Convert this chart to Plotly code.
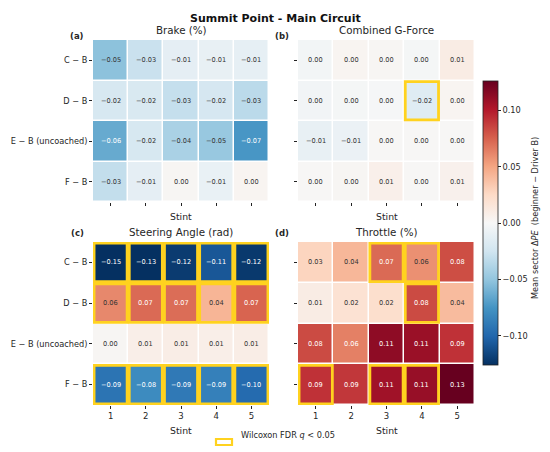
import plotly.graph_objects as go

W, H = 550, 452

stints = [1, 2, 3, 4, 5]
pairs = ["C − B", "D − B", "E − B (uncoached)", "F − B"]

brake = [
    [-0.052, -0.028, -0.012, -0.010, -0.011],
    [-0.021, -0.020, -0.030, -0.022, -0.034],
    [-0.064, -0.021, -0.041, -0.048, -0.074],
    [-0.031, -0.012, 0.002, -0.009, 0.003],
]
gforce = [
    [-0.003, 0.003, 0.002, -0.002, 0.010],
    [-0.004, -0.002, -0.001, -0.016, 0.003],
    [-0.010, -0.008, 0.001, 0.001, 0.001],
    [0.001, 0.002, 0.007, 0.001, 0.006],
]
steering = [
    [-0.148, -0.132, -0.121, -0.108, -0.122],
    [0.061, 0.072, 0.071, 0.043, 0.074],
    [0.002, 0.008, 0.009, 0.008, 0.009],
    [-0.093, -0.080, -0.090, -0.086, -0.098],
]
throttle = [
    [0.028, 0.042, 0.072, 0.058, 0.082],
    [0.010, 0.019, 0.022, 0.083, 0.040],
    [0.083, 0.064, 0.113, 0.109, 0.092],
    [0.092, 0.090, 0.107, 0.110, 0.126],
]

sig_brake = [[0]*5, [0]*5, [0]*5, [0]*5]
sig_gforce = [[0, 0, 0, 0, 0], [0, 0, 0, 1, 0], [0, 0, 0, 0, 0], [0, 0, 0, 0, 0]]
sig_steering = [[1]*5, [1]*5, [0]*5, [1]*5]
sig_throttle = [[0, 0, 1, 1, 0], [0, 0, 0, 1, 0], [0, 0, 0, 0, 0], [1, 0, 1, 1, 0]]

panels = [
    ("Brake (%)", "(a)", brake, sig_brake),
    ("Combined G-Force", "(b)", gforce, sig_gforce),
    ("Steering Angle (rad)", "(c)", steering, sig_steering),
    ("Throttle (%)", "(d)", throttle, sig_throttle),
]

vmax = 0.126
cb_ticks = [-0.10, -0.05, 0.00, 0.05, 0.10]

rdbu_r = [
    [0.0, "#053061"], [0.1, "#2166ac"], [0.2, "#4393c3"], [0.3, "#92c5de"],
    [0.4, "#d1e5f0"], [0.5, "#f7f7f7"], [0.6, "#fddbc7"], [0.7, "#f4a582"],
    [0.8, "#d6604d"], [0.9, "#b2182b"], [1.0, "#67001f"],
]

FONT = "DejaVu Sans"
GOLD = "#FFD21F"

# pixel layout
xdom_px = [(93, 269), (298, 475)]
ydom_px = [(40, 202), (242, 405)]


def xd(p):
    return [p[0] / W, p[1] / W]


def yd(p):
    return [1 - p[1] / H, 1 - p[0] / H]


def fmt(v):
    s = f"{v:.2f}"
    if s == "-0.00":
        s = "0.00"
    return s.replace("-", "−")


fig = go.Figure()
annotations = []
shapes = []

for k, (title, label, data, sig) in enumerate(panels):
    r, c = divmod(k, 2)
    ax = "" if k == 0 else str(k + 1)
    xa, ya = "x" + ax, "y" + ax
    fig.add_trace(go.Heatmap(
        z=data, x=stints, y=list(range(len(pairs))),
        coloraxis="coloraxis", xgap=1.5, ygap=1.5,
        xaxis=xa, yaxis=ya, hoverinfo="skip",
    ))
    fig.update_layout(**{
        "xaxis" + ax: dict(
            domain=xd(xdom_px[c]), range=[0.5, 5.5], tickvals=stints,
            ticktext=[str(s) for s in stints], showticklabels=(r == 1),
            ticks="outside", ticklen=3, tickwidth=1, tickcolor="#222",
            showgrid=False, zeroline=False, showline=False, anchor=ya,
            tickfont=dict(family=FONT, size=8.5, color="#262626"),
        ),
        "yaxis" + ax: dict(
            domain=yd(ydom_px[r]), range=[3.5, -0.5],
            tickvals=list(range(len(pairs))), ticktext=pairs,
            showticklabels=(c == 0), ticks="outside", ticklen=3,
            tickwidth=1, tickcolor="#222", showgrid=False, zeroline=False,
            showline=False, anchor=xa,
            tickfont=dict(family=FONT, size=8.2, color="#262626"),
        ),
    })
    # cell labels
    for i, row in enumerate(data):
        for j, v in enumerate(row):
            annotations.append(dict(
                x=stints[j], y=i, xref=xa, yref=ya, text=fmt(v),
                showarrow=False,
                font=dict(family=FONT, size=6.6,
                          color="white" if abs(v) > 0.063 else "#333333"),
            ))
            if sig[i][j]:
                shapes.append(dict(
                    type="rect", xref=xa, yref=ya,
                    x0=stints[j] - 0.5 + 0.03, x1=stints[j] + 0.5 - 0.03,
                    y0=i - 0.5 + 0.03, y1=i + 0.5 - 0.03,
                    line=dict(color=GOLD, width=2.8), fillcolor="rgba(0,0,0,0)",
                ))
    # subplot title
    annotations.append(dict(
        x=0.5, y=1, xref=xa + " domain", yref=ya + " domain",
        text=title, showarrow=False, yanchor="bottom", yshift=2,
        font=dict(family=FONT, size=10.3, color="#262626"),
    ))
    # panel label
    annotations.append(dict(
        x=(86 if c == 0 else 291) / W, y=1 - (29 if r == 0 else 233) / H,
        xref="paper", yref="paper", xanchor="right",
        text="<b>" + label + "</b>",
        showarrow=False, font=dict(family=FONT, size=8.5, color="#262626"),
    ))
    # x axis title
    annotations.append(dict(
        x=0.5, y=0, xref=xa + " domain", yref=ya + " domain", text="Stint",
        showarrow=False, yanchor="top", yshift=(-7 if r == 0 else -18),
        font=dict(family=FONT, size=9.3, color="#262626"),
    ))

# figure title
annotations.append(dict(
    x=0.5, y=1 - 10 / H, xref="paper", yref="paper",
    text="<b>Summit Point - Main Circuit</b>", showarrow=False,
    font=dict(family=FONT, size=11, color="#111"),
))

# colorbar label
annotations.append(dict(
    x=542 / W, y=1 - 218 / H, xref="paper", yref="paper", textangle=-90,
    text="Mean sector Δ<i>PE</i>  (beginner − Driver B)", showarrow=False,
    font=dict(family=FONT, size=8.2, color="#262626"),
))

# significance legend
shapes.append(dict(
    type="rect", xref="paper", yref="paper",
    x0=216 / W, x1=232 / W, y0=1 - 445 / H, y1=1 - 439 / H,
    line=dict(color=GOLD, width=2.2), fillcolor="white",
))
annotations.append(dict(
    x=239 / W, y=1 - 442 / H, xref="paper", yref="paper", xanchor="left",
    text="Wilcoxon FDR <i>q</i> < 0.05", showarrow=False,
    font=dict(family=FONT, size=8.2, color="#262626"),
))

fig.update_layout(
    width=W, height=H, margin=dict(l=0, r=0, t=0, b=0),
    paper_bgcolor="white", plot_bgcolor="white",
    annotations=annotations, shapes=shapes,
    coloraxis=dict(
        colorscale=rdbu_r, cmin=-vmax, cmax=vmax,
        colorbar=dict(
            x=483 / W, xanchor="left", y=1 - 223 / H, yanchor="middle",
            len=(365 - 81) / H, lenmode="fraction", thickness=15,
            thicknessmode="pixels", outlinewidth=0.8, outlinecolor="#222",
            tickvals=cb_ticks, ticktext=[fmt(t) for t in cb_ticks],
            ticks="outside", ticklen=3, tickcolor="#222",
            tickfont=dict(family=FONT, size=8.2, color="#262626"),
            xpad=0, ypad=0,
        ),
    ),
    font=dict(family=FONT),
)

fig.write_html("out.html", config={"displayModeBar": False},
               post_script="document.body.style.margin='0';"
                           "document.body.style.overflow='hidden';")
